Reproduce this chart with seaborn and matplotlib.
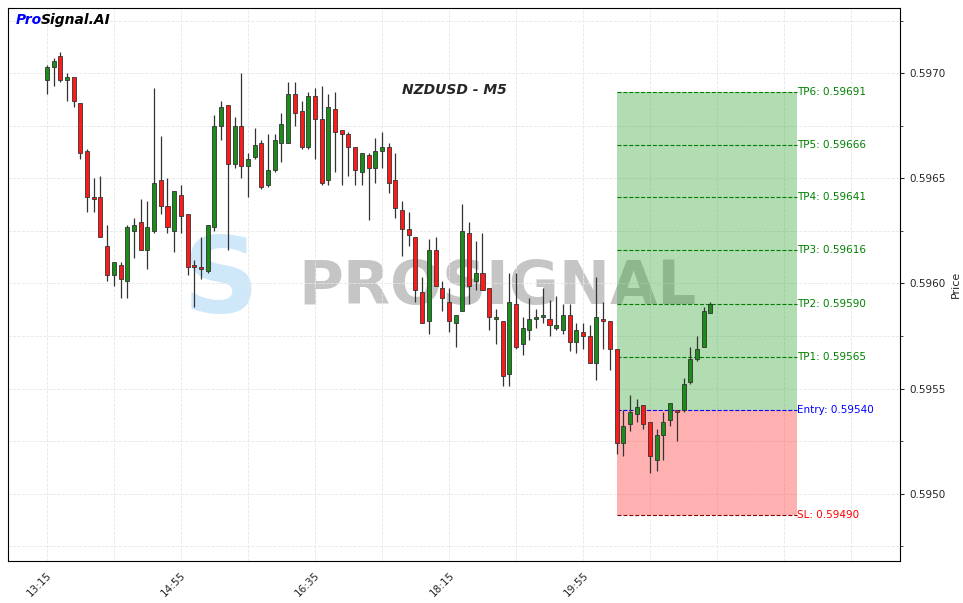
import numpy as np
import matplotlib
matplotlib.use("Agg")
import matplotlib.pyplot as plt
from matplotlib.ticker import MultipleLocator, FormatStrFormatter
import seaborn as sns

# OHLC in points (1e-5), 5-minute bars from 13:15
opens = [59697, 59703, 59708, 59697, 59698, 59686, 59663, 59641, 59641, 59618,
         59604, 59609, 59601, 59625, 59629, 59616, 59625, 59649, 59637, 59625,
         59642, 59633, 59609, 59608, 59606, 59627, 59675, 59685, 59657, 59675,
         59656, 59660, 59667, 59647, 59654, 59667, 59667, 59690, 59682, 59665,
         59689, 59678, 59649, 59683, 59673, 59671, 59665, 59653, 59661, 59655,
         59663, 59665, 59649, 59635, 59626, 59622, 59596, 59582, 59616, 59598,
         59591, 59581, 59587, 59624, 59601, 59605, 59598, 59583, 59582, 59557,
         59590, 59571, 59578, 59583, 59584, 59583, 59579, 59578, 59585, 59572,
         59577, 59575, 59562, 59583, 59582, 59569, 59524, 59533, 59538, 59542,
         59534, 59516, 59528, 59535, 59540, 59540, 59553, 59564, 59570, 59586]
highs = [59704, 59707, 59710, 59700, 59698, 59686, 59664, 59650, 59651, 59628,
         59610, 59610, 59628, 59631, 59640, 59639, 59693, 59670, 59650, 59644,
         59647, 59633, 59611, 59622, 59628, 59680, 59687, 59685, 59679, 59700,
         59662, 59674, 59668, 59671, 59671, 59681, 59696, 59696, 59687, 59691,
         59693, 59694, 59690, 59691, 59673, 59672, 59665, 59662, 59662, 59669,
         59672, 59667, 59662, 59639, 59634, 59622, 59603, 59621, 59622, 59601,
         59598, 59585, 59638, 59629, 59620, 59624, 59598, 59588, 59582, 59605,
         59605, 59584, 59593, 59588, 59598, 59592, 59594, 59590, 59590, 59581,
         59581, 59580, 59603, 59591, 59582, 59569, 59540, 59547, 59545, 59542,
         59534, 59531, 59539, 59543, 59540, 59555, 59570, 59575, 59589, 59591]
lows = [59690, 59694, 59696, 59687, 59684, 59659, 59634, 59634, 59622, 59601,
        59599, 59593, 59593, 59612, 59616, 59607, 59624, 59633, 59624, 59615,
        59624, 59604, 59589, 59602, 59605, 59625, 59668, 59616, 59655, 59650,
        59641, 59659, 59645, 59646, 59653, 59658, 59667, 59675, 59664, 59664,
        59659, 59647, 59647, 59653, 59647, 59651, 59647, 59647, 59630, 59648,
        59655, 59643, 59631, 59613, 59618, 59591, 59581, 59576, 59599, 59587,
        59577, 59570, 59587, 59590, 59597, 59597, 59578, 59571, 59551, 59551,
        59569, 59566, 59573, 59579, 59581, 59575, 59578, 59576, 59568, 59567,
        59569, 59562, 59554, 59569, 59559, 59519, 59518, 59530, 59534, 59531,
        59510, 59511, 59516, 59532, 59525, 59539, 59552, 59563, 59570, 59586]
closes = [59703, 59706, 59697, 59697, 59687, 59662, 59641, 59640, 59622, 59604,
          59610, 59602, 59627, 59628, 59616, 59627, 59648, 59637, 59627, 59644,
          59632, 59608, 59608, 59607, 59628, 59675, 59684, 59657, 59675, 59656,
          59659, 59666, 59646, 59654, 59668, 59676, 59690, 59681, 59665, 59689,
          59678, 59648, 59684, 59672, 59671, 59665, 59654, 59662, 59655, 59663,
          59665, 59648, 59636, 59626, 59623, 59597, 59581, 59616, 59599, 59593,
          59582, 59585, 59625, 59599, 59605, 59597, 59584, 59583, 59556, 59591,
          59570, 59579, 59583, 59584, 59584, 59580, 59580, 59585, 59572, 59578,
          59575, 59562, 59584, 59582, 59569, 59524, 59532, 59539, 59541, 59533,
          59518, 59528, 59534, 59543, 59539, 59552, 59564, 59569, 59587, 59590]

time_labels = ["13:15", "14:55", "16:35", "18:15", "19:55"]
entry = 0.59540
stop_loss = 0.59490
tp_names = ["TP1", "TP2", "TP3", "TP4", "TP5", "TP6"]
tp_levels = [0.59565, 0.59590, 0.59616, 0.59641, 0.59666, 0.59691]
zone_start, zone_end = 85, 112

o = np.array(opens) / 1e5
h = np.array(highs) / 1e5
l = np.array(lows) / 1e5
c = np.array(closes) / 1e5
idx = np.arange(len(o))

sns.set_style("white")
fig = plt.figure(figsize=(9.63, 6.03), dpi=100)
ax = fig.add_axes([0.0083, 0.0697, 0.9263, 0.917])

# trade zone
ax.fill_between([zone_start, zone_end], entry, tp_levels[-1], color="#2ca02c", alpha=0.36, lw=0, zorder=1)
ax.fill_between([zone_start, zone_end], stop_loss, entry, color="#ff3b3b", alpha=0.4, lw=0, zorder=1)
for name, lev in zip(tp_names, tp_levels):
    ax.hlines(lev, zone_start, zone_end, colors="green", linestyles="--", lw=0.8, zorder=2)
    ax.text(zone_end, lev, f"{name}: {lev:.5f}", color="green", fontsize=7.5, va="center", ha="left")
ax.hlines(entry, zone_start, zone_end, colors="blue", linestyles="--", lw=0.8, zorder=2)
ax.text(zone_end, entry, f"Entry: {entry:.5f}", color="blue", fontsize=7.5, va="center", ha="left")
ax.hlines(stop_loss, zone_start, zone_end, colors="#8b0000", linestyles="--", lw=0.8, zorder=2)
ax.text(zone_end, stop_loss, f"SL: {stop_loss:.5f}", color="red", fontsize=7.5, va="center", ha="left")

# watermark
ax.text(0.325, 0.495, "PROSIGNAL", transform=ax.transAxes, fontsize=44, fontweight="bold",
        color="#808080", alpha=0.45, va="center", ha="left", zorder=0)
ax.text(0.195, 0.5, "S", transform=ax.transAxes, fontsize=76, fontweight="bold",
        color="#9fd3f7", alpha=0.5, va="center", ha="left", zorder=0)

# candles
up = c >= o
colors = np.where(up, "#1a8c1a", "#ff1a1a")
ax.vlines(idx, l, h, colors="#333333", lw=0.9, zorder=3)
body = np.abs(c - o)
body = np.where(body < 1e-5, 1e-5, body)
ax.bar(idx, body, bottom=np.minimum(o, c), width=0.6, color=colors, edgecolor="#333333", lw=0.6, zorder=4)

ax.set_xlim(-5.8, 127.3)
ax.set_ylim(0.59468, 0.59731)
ax.yaxis.tick_right()
ax.yaxis.set_label_position("right")
ax.set_ylabel("Price", fontsize=8)
ax.yaxis.set_major_locator(MultipleLocator(0.0005))
ax.yaxis.set_minor_locator(MultipleLocator(0.00025))
ax.yaxis.set_major_formatter(FormatStrFormatter("%.4f"))
ax.set_xticks(np.arange(0, 121, 20))
ax.set_xticklabels(time_labels + ["", ""], rotation=45, ha="right", rotation_mode="anchor", fontsize=7.5)
ax.xaxis.set_minor_locator(MultipleLocator(10))
ax.tick_params(axis="y", labelsize=7.5, length=3)
ax.tick_params(axis="x", length=3)
ax.grid(which="both", color="#e6e6e6", ls="--", lw=0.6)
ax.set_axisbelow(True)
for s in ax.spines.values():
    s.set_color("black")
    s.set_linewidth(0.8)

ax.text(0.5, 0.845, "NZDUSD - M5", transform=ax.transAxes, fontsize=10, fontweight="bold",
        style="italic", ha="center")
fig.text(0.016, 0.967, "Pro", color="blue", fontsize=10, fontweight="bold", style="italic", va="center")
fig.text(0.042, 0.967, "Signal.AI", color="black", fontsize=10, fontweight="bold", style="italic", va="center")

fig.savefig("out.png", dpi=100)
